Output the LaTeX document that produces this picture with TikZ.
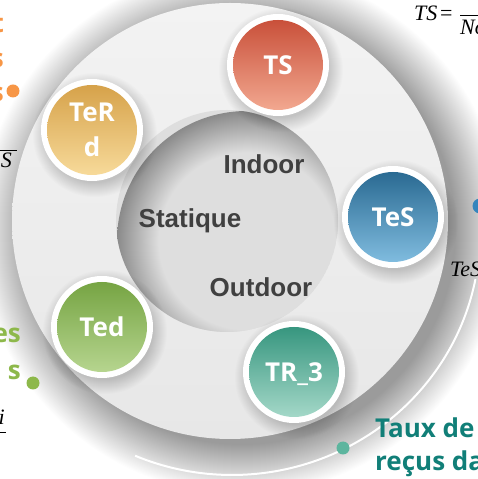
\documentclass[tikz,border=0pt]{standalone}
\usepackage{fontspec}
\newfontfamily\osans{Open Sans}
\newfontfamily\lsans{Liberation Sans}
\newfontfamily\mfont{Liberation Serif}
\definecolor{tsT}{HTML}{C9503A}\definecolor{tsB}{HTML}{F2A890}
\definecolor{trT}{HTML}{D6A24A}\definecolor{trB}{HTML}{F7DA9A}
\definecolor{tesT}{HTML}{2A6A92}\definecolor{tesB}{HTML}{80BCDF}
\definecolor{tedT}{HTML}{76A443}\definecolor{tedB}{HTML}{B6D58F}
\definecolor{trtT}{HTML}{37967F}\definecolor{trtB}{HTML}{A4D8C8}
\definecolor{orangeT}{HTML}{F79646}
\definecolor{greenT}{HTML}{8DB84A}
\definecolor{tealT}{HTML}{117F78}
\definecolor{tealD}{HTML}{5CB59E}
\definecolor{blueD}{HTML}{3585BD}
\definecolor{innerC}{HTML}{404040}
\definecolor{diskT}{HTML}{F3F3F3}
\definecolor{diskB}{HTML}{E7E7E7}
\definecolor{holeL}{HTML}{DEDEDE}
\definecolor{holeD}{HTML}{8A8A8A}
\pgfdeclareradialshading{holeshade}{\pgfpointorigin}{color(0bp)=(holeL); color(17bp)=(holeL); color(25bp)=(holeD); color(50bp)=(holeD)}
\newcommand\drawbubble[7][]{%
  \foreach \k in {0,...,14} \fill[black,opacity=0.012] (#3+3,#4-5) circle ({48+\k});
  \fill[white] (#3,#4) circle (51);
  \shade[top color=#5, bottom color=#6] (#3,#4) circle (45);
  \node[bubtext,#1] (#2) at (#3,#4) {#7};
}
\begin{document}
\begin{tikzpicture}[x=1pt,y=1pt,
  bubtext/.style={font=\osans\bfseries\fontsize{26}{35}\selectfont, text=white, align=center, inner sep=0pt},
  inlbl/.style={font=\lsans\bfseries\fontsize{26}{30}\selectfont, text=innerC, inner sep=0pt, anchor=base},
  coltext/.style={font=\osans\bfseries\fontsize{26}{30}\selectfont, inner sep=0pt},
  mathlbl/.style={font=\mfont\itshape\fontsize{22}{26}\selectfont, inner sep=0pt},
  mathop/.style={font=\mfont\fontsize{22}{26}\selectfont, inner sep=0pt},
  dotn/.style={circle, inner sep=0pt, minimum size=13pt}]
\useasboundingbox (0,0) rectangle (478,479);
\fill[white] (0,0) rectangle (478,479);
\begin{scope}
\clip (0,0) rectangle (478,479);
% big soft shadow
\foreach \k in {0,...,49} \fill[black,opacity=0.0072] (242,248) circle ({214+\k});
% white arc
\draw[white, line width=2] (232,246) ++(-11:248 and 242) arc[start angle=-11, end angle=-113, x radius=248, y radius=242];
% outer disk
\shade[top color=diskT, bottom color=diskB] (230,258) circle (218);
% inner hole
\begin{scope}
\clip (227,258) circle (111);
\fill[holeL] (227,258) circle (111);
\shade[shading=holeshade] (247,238) circle (130);
\end{scope}
% bubbles
\drawbubble{ts}{278}{414}{tsT}{tsB}{TS}
\drawbubble{terd}{92}{349}{trT}{trB}{TeR\\d}
\drawbubble{tes}{393}{262}{tesT}{tesB}{TeS}
\drawbubble{ted}{102}{152}{tedT}{tedB}{Ted}
\drawbubble[text depth=0pt]{trt}{294}{107}{trtT}{trtB}{TR\_3}
% inner labels
\node[inlbl] (indoor) at (264,305) {Indoor};
\node[inlbl] (statique) at (190,251) {Statique};
\node[inlbl] (outdoor) at (261,182) {Outdoor};
% dots
\node[dotn, fill=orangeT] (odot) at (13,388) {};
\node[dotn, fill=greenT] (gdot) at (33,96) {};
\node[dotn, fill=tealD] (tdot) at (343,31) {};
\node[dotn, fill=blueD, minimum size=15pt] (bdot) at (480,273) {};
% partial side texts
\node[coltext, text=orangeT, anchor=base east] (o1) at (4,446) {t};
\node[coltext, text=orangeT, anchor=base east] (o2) at (4,411) {s};
\node[coltext, text=orangeT, anchor=base east] (o3) at (4,377) {s};
\node[coltext, text=greenT, anchor=base east] (g1) at (21,136) {es};
\node[coltext, text=greenT, anchor=base east] (g2) at (21,99) {s};
\node[coltext, text=tealT, anchor=base west] (t1) at (375,41) {Taux de};
\node[coltext, text=tealT, anchor=base west] (t2) at (375,9) {reçus da};
% formula fragments
\node[mathlbl, anchor=base west] (tsf) at (414,458) {TS};
\node[mathop, anchor=base west] (tseq) at (440,458) {=};
\draw[line width=1] (460,463) -- (480,463);
\node[mathlbl, anchor=base west] (tsd) at (460,444) {No};
\draw[line width=1] (-2,328) -- (17,328);
\node[mathlbl, anchor=base east] (sden) at (12,311) {S};
\draw[line width=1] (-2,46) -- (6,46);
\node[mathlbl, anchor=base east] (iden) at (5,54) {i};
\node[mathlbl, anchor=base west] (tesf) at (450,202) {TeS};
\end{scope}
\end{tikzpicture}
\end{document}
